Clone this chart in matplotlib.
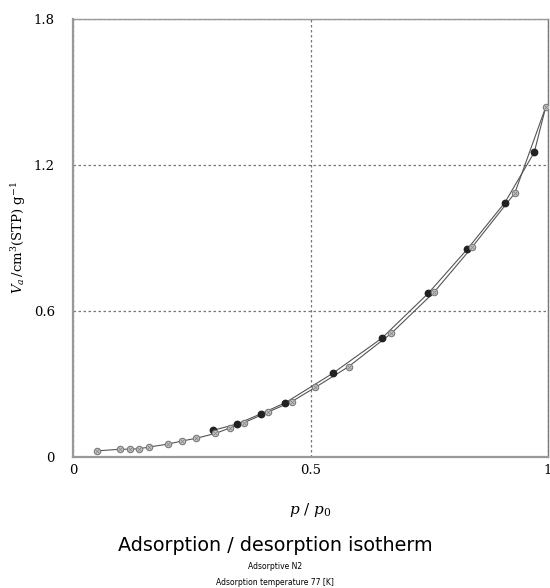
import matplotlib
matplotlib.use('Agg')
import matplotlib.pyplot as plt

plt.rcParams['mathtext.fontset'] = 'dejavuserif'

# 吸着側 (灰色マーカー)
ads_p = [0.05, 0.10, 0.12, 0.14, 0.16, 0.20, 0.23, 0.26, 0.30, 0.33,
         0.36, 0.41, 0.46, 0.51, 0.58, 0.67, 0.76, 0.84, 0.93, 0.995]
ads_v = [0.025, 0.032, 0.032, 0.034, 0.041, 0.053, 0.066, 0.077, 0.097, 0.119,
         0.141, 0.184, 0.227, 0.286, 0.371, 0.508, 0.677, 0.862, 1.084, 1.437]

# 脱着側 (黒マーカー)
des_p = [0.995, 0.971, 0.909, 0.830, 0.748, 0.650, 0.547, 0.447, 0.395, 0.346, 0.294]
des_v = [1.437, 1.252, 1.045, 0.854, 0.673, 0.488, 0.344, 0.223, 0.177, 0.136, 0.109]

x_ticks = [0, 0.5, 1]
x_ticklabels = ['0', '0.5', '1']
y_ticks = [0, 0.6, 1.2, 1.8]
y_ticklabels = ['0', '0.6', '1.2', '1.8']

serif = ['DejaVu Serif']

fig = plt.figure(figsize=(5.5, 5.88), dpi=100)
ax = fig.add_axes([0.1327, 0.2228, 0.8637, 0.7449])

# 線
ax.plot(ads_p, ads_v, color='#555555', linewidth=0.8, zorder=3)
ax.plot(des_p, des_v, color='#555555', linewidth=0.8, zorder=3)

# マーカー
ax.plot(des_p[1:], des_v[1:], linestyle='none', marker='o', markersize=4.6,
        markerfacecolor='#222222', markeredgecolor='#222222', zorder=4)
ax.plot(ads_p, ads_v, linestyle='none', marker='o', markersize=4.6,
        markerfacecolor='#c4c4c4', markeredgecolor='#7a7a7a', markeredgewidth=0.8, zorder=5)
ax.plot(ads_p, ads_v, linestyle='none', marker='x', markersize=2.6,
        markeredgecolor='#8a8a8a', markeredgewidth=0.6, zorder=6)

ax.set_xlim(0, 1)
ax.set_ylim(0, 1.8)
ax.set_xticks(x_ticks)
ax.set_xticklabels(x_ticklabels, fontfamily=serif, fontsize=9.5)
ax.set_yticks(y_ticks)
ax.set_yticklabels(y_ticklabels, fontfamily=serif, fontsize=9.5)
ax.tick_params(length=0)
ax.tick_params(axis='x', pad=5)
ax.tick_params(axis='y', pad=13)

# グリッド (点線)
ax.grid(True, linestyle=(0, (2, 2)), color='#777777', linewidth=0.9)

for side in ['left', 'bottom']:
    ax.spines[side].set_color('#999999')
    ax.spines[side].set_linewidth(1.6)
ax.spines['top'].set_color('#999999')
ax.spines['top'].set_linewidth(1.0)
ax.spines['right'].set_color('#777777')
ax.spines['right'].set_linewidth(1.0)

ax.set_xlabel(r'$p\ /\ p_0$', fontsize=11, labelpad=17)
ax.set_ylabel(r'$V_a\,/\mathrm{cm^3(STP)\ g^{-1}}$', fontsize=9.5, labelpad=4)

fig.text(0.5, 0.073, 'Adsorption / desorption isotherm', ha='center', va='center',
         fontsize=13.8, fontfamily='DejaVu Sans')
fig.text(0.5, 0.037, 'Adsorptive N2', ha='center', va='center', fontsize=5.5,
         fontfamily='DejaVu Sans')
fig.text(0.5, 0.010, 'Adsorption temperature 77 [K]', ha='center', va='center', fontsize=5.5,
         fontfamily='DejaVu Sans')

plt.savefig('out.png', dpi=100)
